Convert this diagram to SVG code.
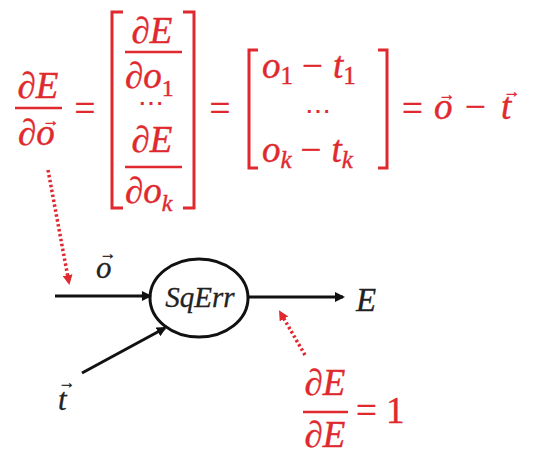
<svg xmlns="http://www.w3.org/2000/svg" width="539" height="454" viewBox="0 0 539 454">
<style>
.r{fill:#e0292e;stroke:#e0292e;stroke-width:0.4;font-family:"Liberation Serif","DejaVu Serif",serif;font-style:italic;font-size:37px}
.k{fill:#222;stroke:#222;stroke-width:0.3;font-family:"Liberation Serif","DejaVu Serif",serif;font-style:italic}
.up{font-style:normal}
.vec{font-style:normal;font-size:17px;text-anchor:middle}
.dots{font-style:normal;font-size:26px;text-anchor:middle;stroke-width:0.2}
.ln{stroke:#e0292e;stroke-width:2.5;fill:none}
.br{stroke:#e0292e;stroke-width:3;fill:none}
.ed{stroke:#111;stroke-width:3;fill:none}
.dot{stroke:#e0292e;stroke-width:3.5;fill:none;stroke-dasharray:2.5 2.5}
</style>
<defs>
<marker id="ab" markerWidth="10" markerHeight="10" refX="8" refY="5" orient="auto" markerUnits="userSpaceOnUse"><path d="M0,0 L10,5 L0,10 Z" fill="#111"/></marker>
<marker id="ar" markerWidth="10" markerHeight="10" refX="8" refY="5" orient="auto" markerUnits="userSpaceOnUse"><path d="M0,0 L10,5 L0,10 Z" fill="#e0292e"/></marker>
</defs>
<g id="formula">
<text class="r" x="38" y="98" text-anchor="middle">∂E</text>
<line class="ln" x1="15" y1="108" x2="62" y2="108"/>
<text class="r" x="18" y="145">∂o</text>
<text class="r vec" x="51" y="126">→</text>
<text class="r up" x="85" y="121" text-anchor="middle">=</text>
<path class="br" d="M123 12 H112 V208 H123"/>
<path class="br" d="M183 12 H194 V208 H183"/>
<text class="r" x="152" y="43" text-anchor="middle">∂E</text>
<line class="ln" x1="125" y1="52" x2="182" y2="52"/>
<text class="r" x="125" y="88">∂o<tspan class="up" font-size="24" dy="8">1</tspan></text>
<text class="r dots" x="151" y="112">⋯</text>
<text class="r" x="152" y="152" text-anchor="middle">∂E</text>
<line class="ln" x1="125" y1="167" x2="182" y2="167"/>
<text class="r" x="125" y="203">∂o<tspan font-size="24" dy="8">k</tspan></text>
<text class="r up" x="220" y="121" text-anchor="middle">=</text>
<path class="br" d="M258 50 H249 V168 H258"/>
<path class="br" d="M378 50 H387 V168 H378"/>
<text class="r" x="262" y="78">o<tspan class="up" font-size="25" dy="6">1</tspan><tspan class="up" dy="-6" dx="9">−</tspan><tspan dx="10">t</tspan><tspan class="up" font-size="25" dy="6">1</tspan></text>
<text class="r dots" x="318" y="120">⋯</text>
<text class="r" x="262" y="162">o<tspan font-size="25" dy="6">k</tspan><tspan class="up" dy="-6" dx="9">−</tspan><tspan dx="10">t</tspan><tspan font-size="25" dy="6">k</tspan></text>
<text class="r up" x="402" y="121">=</text>
<text class="r" x="434" y="119">o</text>
<text class="r vec" x="447" y="100">→</text>
<text class="r up" x="465" y="119">−</text>
<text class="r" x="501" y="119">t</text>
<text class="r vec" x="512" y="97">→</text>
</g>
<g id="sqerr">
<ellipse cx="199" cy="298" rx="49" ry="39" fill="#fff" stroke="#111" stroke-width="3"/>
<text class="k" x="200" y="307" text-anchor="middle" font-size="29">SqErr</text>
</g>
<g id="o-label"><text class="k" x="96" y="278" font-size="31">o</text><text class="k vec" x="108" y="259">→</text></g>
<g id="t-label"><text class="k" x="58" y="410" font-size="31">t</text><text class="k vec" x="67" y="388">→</text></g>
<g id="E-label"><text class="k" x="356" y="311" font-size="33">E</text></g>
<g id="dEdE">
<text class="r" x="325" y="395" text-anchor="middle">∂E</text>
<line class="ln" x1="303" y1="412" x2="348" y2="412"/>
<text class="r" x="325" y="447" text-anchor="middle">∂E</text>
<text class="r up" x="356" y="423">= 1</text>
</g>
<g id="connectors">
<line class="ed" x1="55" y1="296" x2="150" y2="296" marker-end="url(#ab)"/>
<line class="ed" x1="82" y1="373" x2="165" y2="328" marker-end="url(#ab)"/>
<line class="ed" x1="248" y1="297" x2="343" y2="297" marker-end="url(#ab)"/>
<line class="dot" x1="48" y1="170" x2="69" y2="283" marker-end="url(#ar)"/>
<line class="dot" x1="305" y1="355" x2="280" y2="312" marker-end="url(#ar)"/>
</g>
</svg>
